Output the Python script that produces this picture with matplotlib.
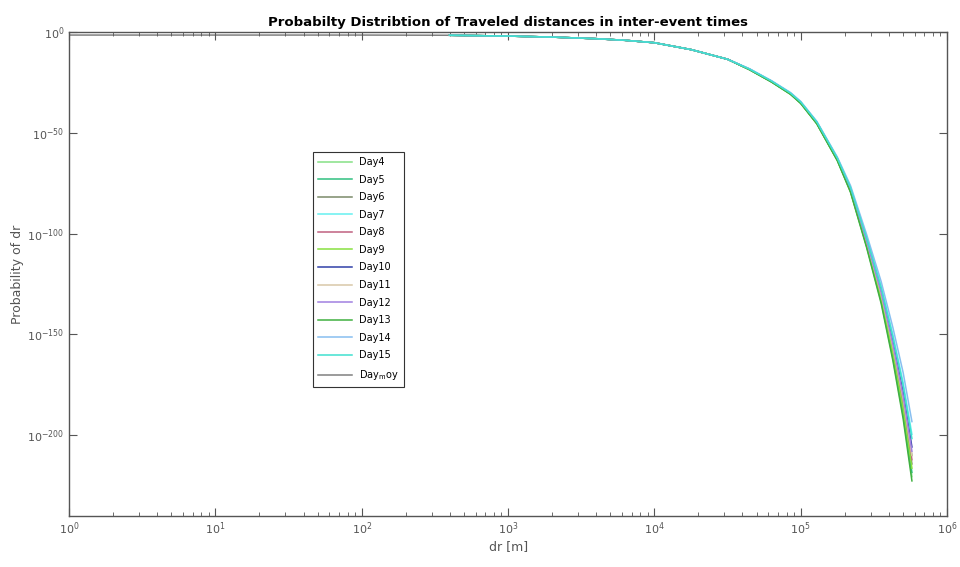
import numpy as np
import matplotlib
matplotlib.use("Agg")
import matplotlib.pyplot as plt
from matplotlib.ticker import FixedLocator, LogLocator, NullLocator

# distance grid, log10(dr)
log_dr = [2.6, 3.0, 3.3, 3.6, 3.8, 4.0, 4.25, 4.5, 4.65, 4.8, 4.93, 5.0,
          5.11, 5.25, 5.34, 5.45, 5.55, 5.63, 5.7, 5.76]

# log10 of probability per day
head = [-1.6, -2.0, -2.5, -3.3, -4.1, -5.3, -8.7, -13.5]
day4 = head + [-18.7, -24.7, -30.8, -35.4, -45.5, -63.6, -79.2, -106.3, -133.9, -161.9, -190.2, -220.5]
day5 = head + [-18.6, -24.7, -30.7, -35.3, -45.4, -63.5, -78.9, -105.9, -133.1, -160.7, -188.6, -218.4]
day6 = head + [-18.6, -24.6, -30.6, -35.1, -45.2, -63.3, -78.5, -104.9, -131.6, -158.3, -185.3, -214.2]
day7 = head + [-18.3, -24.3, -30.2, -34.7, -44.6, -62.4, -76.8, -101.7, -126.1, -150.2, -173.8, -199.5]
day8 = head + [-18.5, -24.5, -30.6, -35.1, -45.1, -63.1, -78.2, -104.5, -130.8, -157.2, -183.6, -212.1]
day9 = head + [-18.6, -24.6, -30.7, -35.2, -45.3, -63.4, -78.7, -105.4, -132.3, -159.5, -186.9, -216.3]
day10 = head + [-18.4, -24.4, -30.4, -34.9, -44.8, -62.7, -77.5, -103.1, -128.4, -153.7, -178.7, -205.8]
day11 = head + [-18.5, -24.5, -30.5, -35.0, -45.0, -63.0, -78.0, -104.0, -130.0, -156.0, -182.0, -210.0]
day12 = head + [-18.5, -24.5, -30.4, -34.9, -44.9, -62.9, -77.8, -103.5, -129.2, -154.8, -180.4, -207.9]
day13 = head + [-18.7, -24.8, -30.9, -35.4, -45.5, -63.8, -79.4, -106.8, -134.7, -163.0, -191.8, -222.6]
day14 = head + [-18.2, -24.1, -30.0, -34.4, -44.3, -62.0, -76.1, -100.3, -123.8, -146.6, -168.9, -193.2]
day15 = head + [-18.4, -24.3, -30.3, -34.7, -44.6, -62.5, -77.1, -102.1, -126.9, -151.3, -175.4, -201.6]

# mean curve starts at 1 m
log_dr_moy = [0.0, 1.0, 2.0] + log_dr
day_moy = [-1.5, -1.5, -1.5] + day11

labels = ["Day4", "Day5", "Day6", "Day7", "Day8", "Day9", "Day10",
          "Day11", "Day12", "Day13", "Day14", "Day15"]
series = [day4, day5, day6, day7, day8, day9, day10,
          day11, day12, day13, day14, day15]
colors = ["#85e085", "#30c080", "#7a8a6a", "#66f0f0", "#c06080", "#88e040",
          "#3040a8", "#d8c8a8", "#a080e0", "#40b040", "#88bff0", "#40e0d0"]

fig = plt.figure(figsize=(9.6, 5.67), dpi=100)
ax = fig.add_axes([0.072, 0.09, 0.9145, 0.8535])

for lab, ys, c in zip(labels, series, colors):
    ax.plot(10.0 ** np.array(log_dr), 10.0 ** np.array(ys), color=c, lw=1.1, label=lab)
ax.plot(10.0 ** np.array(log_dr_moy), 10.0 ** np.array(day_moy),
        color="#808080", lw=1.1, label=r"Day$_{\rm m}$oy", zorder=1.5)

ax.set_xscale("log")
ax.set_yscale("log")
ax.set_xlim(1, 1e6)
ax.set_ylim(1e-240, 1e0)

ax.yaxis.set_major_locator(FixedLocator([1e0, 1e-50, 1e-100, 1e-150, 1e-200]))
ax.set_yticklabels([r"$10^{0}$", r"$10^{-50}$", r"$10^{-100}$", r"$10^{-150}$", r"$10^{-200}$"])
ax.yaxis.set_minor_locator(NullLocator())
ax.xaxis.set_major_locator(FixedLocator([10.0 ** k for k in range(7)]))
ax.xaxis.set_minor_locator(LogLocator(base=10, subs=np.arange(2, 10), numticks=20))

gray = "#555555"
ax.tick_params(which="both", direction="in", top=True, right=True, colors=gray, labelsize=8)
ax.tick_params(which="major", length=6)
ax.tick_params(which="minor", length=3)
for s in ax.spines.values():
    s.set_color(gray)
    s.set_linewidth(1)

ax.set_title("Probabilty Distribtion of Traveled distances in inter-event times",
             fontsize=9.5, fontweight="bold", pad=4)
ax.set_xlabel("dr [m]", color=gray, fontsize=9, labelpad=2)
ax.set_ylabel("Probability of dr", color=gray, fontsize=9, labelpad=2)

leg = ax.legend(loc="upper left", bbox_to_anchor=(0.272, 0.762), fontsize=7,
                handlelength=3.5, labelspacing=0.78, fancybox=False,
                borderpad=0.5, framealpha=1)
leg.get_frame().set_edgecolor("#333333")
leg.get_frame().set_linewidth(0.8)

fig.savefig("out.png", dpi=100)
